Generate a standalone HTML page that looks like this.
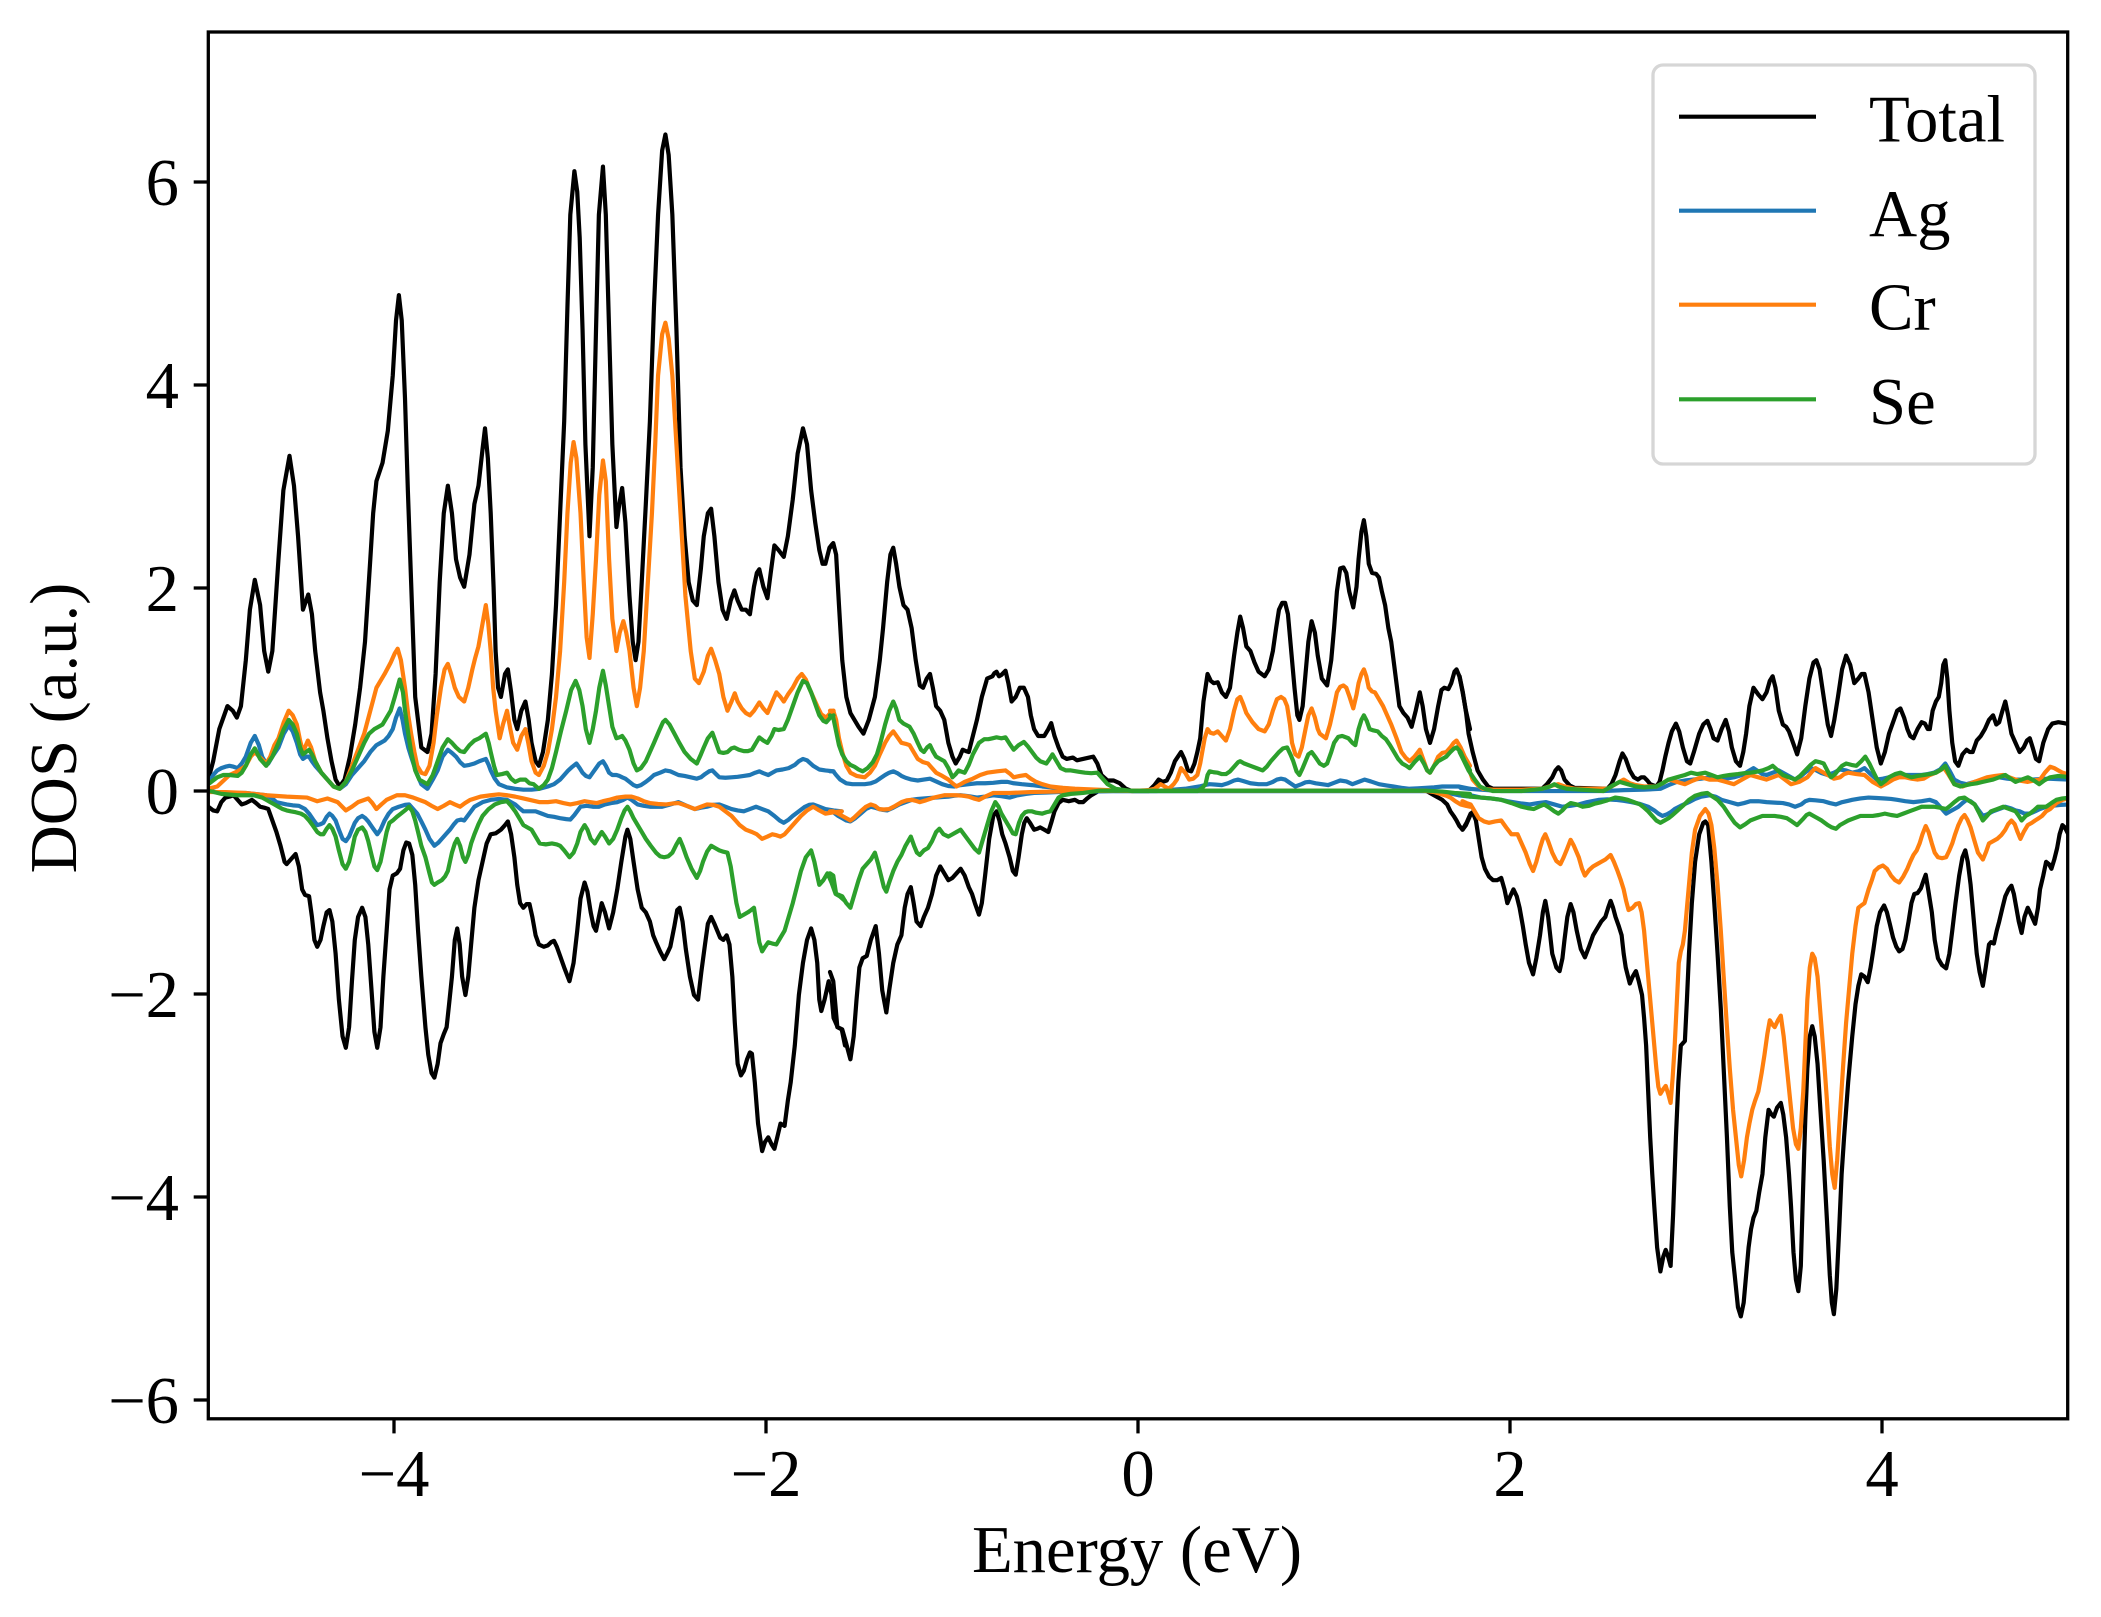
<!DOCTYPE html>
<html><head><meta charset="utf-8"><style>
html,body{margin:0;padding:0;background:#fff;}
svg{display:block;}
text{font-family:"Liberation Serif","Times New Roman",serif;font-size:66.67px;fill:#000;}
polyline{fill:none;stroke-width:4.2;stroke-linejoin:round;stroke-linecap:round;}
.k{stroke:#000;} .b{stroke:#1f77b4;} .o{stroke:#ff7f0e;} .g{stroke:#2ca02c;}
</style></head><body>
<svg width="2101" height="1617" viewBox="0 0 2101 1617" xmlns="http://www.w3.org/2000/svg">
<defs><clipPath id="ax"><rect x="208" y="32" width="1860" height="1387"/></clipPath></defs>
<rect width="2101" height="1617" fill="#fff"/>
<g clip-path="url(#ax)">
<!-- TOTAL (black) -->
<g transform="translate(205,100) scale(0.408163,0.459184)">
<polyline vector-effect="non-scaling-stroke" class="k" points="8,1480 20,1440 35,1370 55,1320 68,1330 78,1345 88,1320 100,1220 110,1110 122,1045 135,1100 145,1200 155,1245 165,1200 180,1000 192,850 207,775 218,840 228,950 240,1110 253,1077 262,1120 270,1200 282,1290 290,1330 300,1390 310,1440 320,1480 330,1495 342,1480 355,1430 368,1360 380,1280 392,1180 405,1000 412,900 420,830 435,790 448,720 460,600 468,480 475,425 482,480 490,650 497,850 505,1050 515,1300 530,1410 545,1420 555,1380 565,1250 575,1050 585,900 595,840 605,900 615,1000 625,1040 635,1060 648,990 660,880 670,840 680,760 686,715 693,780 700,900 707,1060 712,1200 718,1280 725,1300 735,1250 742,1240 750,1290 758,1350 765,1370 775,1330 785,1310 793,1350 800,1400 810,1440 818,1450 828,1420 840,1350 850,1250 860,1100 870,900 880,700 888,450 895,250 905,155 912,200 918,300 925,500 932,750 942,950 950,800 958,500 965,250 975,145 982,250 990,500 998,750 1008,930 1015,880 1022,845 1030,920 1040,1080 1048,1180 1055,1220 1062,1180 1070,1050 1080,880 1090,700 1100,450 1110,250 1120,110 1128,75 1136,120 1145,250 1155,500 1165,800 1175,950 1185,1050 1195,1090 1205,1100 1215,1020 1222,950 1232,900 1240,890 1248,950 1258,1050 1268,1110 1278,1130 1288,1090 1297,1068 1305,1090 1315,1110 1325,1110 1335,1120 1345,1060 1352,1030 1358,1022 1368,1060 1378,1085 1386,1030 1395,970 1405,980 1418,995 1428,950 1440,870 1452,770 1465,715 1475,750 1485,850 1495,920 1505,980 1513,1010 1520,1010 1530,975 1537,967"/>
</g>
<g transform="translate(830,100) scale(0.408163,0.459184)">
<polyline vector-effect="non-scaling-stroke" class="k" points="0,975 8,965 15,990 22,1100 30,1220 40,1300 50,1335 60,1350 70,1365 82,1380 95,1350 110,1300 122,1220 130,1150 140,1050 148,990 155,975 162,1010 170,1060 180,1100 190,1110 200,1150 210,1220 220,1275 228,1280 237,1260 245,1250 252,1280 260,1320 270,1330 280,1350 290,1400 300,1430 308,1445 318,1430 325,1415 333,1418 340,1420 350,1385 360,1350 372,1300 385,1260 398,1255 403,1248 408,1245 414,1255 420,1252 430,1243 437,1270 445,1310 455,1300 465,1280 475,1280 485,1300 492,1340 500,1370 510,1385 525,1385 535,1370 542,1357 550,1385 560,1410 570,1430 580,1435 595,1432 605,1438 620,1435 635,1432 645,1430 655,1445 665,1470 680,1482 695,1482 710,1488 725,1500 740,1505 780,1505 795,1492 805,1480 815,1485 825,1482 835,1465 845,1440 860,1420 868,1435 877,1460 885,1462 893,1445 900,1420 907,1390 915,1310 925,1250 933,1265 940,1270 950,1268 960,1290 970,1300 980,1280 990,1210 998,1160 1005,1125 1012,1150 1020,1190 1030,1200 1040,1225 1050,1245 1065,1255 1075,1240 1085,1200 1093,1150 1100,1110 1108,1095 1115,1095 1122,1120 1130,1200 1138,1280 1145,1340 1150,1350 1158,1320 1165,1250 1172,1180 1180,1135 1188,1160 1195,1210 1205,1260 1218,1275 1228,1220 1235,1150 1242,1070 1250,1020 1258,1018 1265,1030 1272,1070 1282,1105 1290,1060 1295,1000 1302,940 1308,915 1314,950 1320,1010 1328,1030 1338,1032 1345,1040 1352,1070 1360,1100 1368,1150 1375,1180 1385,1250 1395,1320 1405,1335 1415,1345 1425,1365 1435,1330 1445,1290 1452,1320 1460,1370 1470,1400 1480,1370 1490,1320 1498,1285 1505,1280 1515,1283 1522,1270 1530,1245 1535,1240 1542,1255 1550,1290 1558,1330 1568,1370"/>
</g>
<g transform="translate(1440,100) scale(0.408163,0.459184)">
<polyline vector-effect="non-scaling-stroke" class="k" points="48,1255 56,1290 64,1335 70,1380 80,1420 92,1460 105,1480 118,1495 130,1500 250,1500 262,1490 275,1475 283,1460 290,1453 297,1460 305,1480 318,1493 330,1498 410,1500 420,1490 430,1470 440,1440 447,1423 455,1435 465,1460 475,1475 485,1480 493,1475 500,1475 508,1482 515,1490 530,1495 538,1485 545,1460 552,1430 560,1400 568,1375 578,1358 586,1375 595,1410 605,1440 613,1445 622,1420 635,1380 645,1360 655,1352 663,1370 670,1390 680,1395 690,1370 700,1350 708,1375 715,1410 725,1440 735,1450 743,1420 750,1380 758,1320 768,1280 780,1295 790,1305 800,1290 808,1265 815,1255 822,1280 830,1330 840,1360 848,1365 855,1375 865,1400 875,1425 885,1390 895,1320 905,1260 915,1225 922,1220 930,1240 940,1300 950,1360 958,1385 966,1350 975,1300 985,1240 995,1210 1005,1230 1015,1270 1025,1260 1033,1250 1040,1250 1050,1290 1060,1350 1070,1410 1080,1445 1090,1420 1100,1380 1112,1350 1120,1330 1128,1325 1137,1345 1145,1370 1152,1385 1160,1390 1170,1370 1180,1355 1188,1358 1195,1370 1200,1370 1207,1330 1215,1310 1222,1300 1228,1270 1233,1230 1238,1220 1243,1260 1248,1330 1255,1400 1262,1440 1270,1450 1280,1425 1290,1415 1298,1420 1305,1420 1315,1395 1325,1385 1335,1370 1345,1350 1355,1340 1363,1360 1370,1355 1378,1330 1385,1310 1392,1340 1400,1380 1410,1400 1420,1420 1430,1410 1438,1395 1445,1390 1452,1410 1460,1435 1468,1440 1478,1400 1490,1370 1500,1358 1515,1355 1528,1357 1545,1360"/>
</g>
<g transform="translate(205,770) scale(0.408163,0.459184)">
<polyline vector-effect="non-scaling-stroke" class="k" points="8,80 20,88 30,90 40,70 50,60 60,58 70,55 80,65 90,75 100,72 115,65 125,72 135,80 145,82 155,85 165,110 175,135 185,165 195,200 200,205 210,195 222,183 230,210 238,260 245,272 255,275 262,320 268,370 275,385 283,370 290,340 298,310 305,305 312,330 320,400 328,500 337,580 345,605 353,560 360,460 367,370 375,320 385,300 393,320 400,380 408,480 415,570 422,605 430,560 437,450 445,350 452,260 460,230 470,225 478,215 486,175 493,158 500,160 508,185 515,250 522,350 530,450 540,560 547,620 555,660 562,670 570,640 577,595 585,575 592,560 598,510 605,450 612,370 618,345 624,380 630,450 638,490 645,450 652,380 660,300 670,240 680,200 690,160 700,140 712,138 725,130 735,120 742,112 750,140 758,190 765,250 772,290 780,300 788,292 795,292 802,320 810,360 818,380 830,385 840,382 848,375 855,372 862,385 870,405 880,430 893,460 903,420 912,350 920,280 930,245 937,265 945,310 952,340 958,350 965,320 972,290 980,310 990,345 1000,310 1010,260 1020,200 1030,145 1035,130 1042,150 1050,200 1060,260 1070,300 1080,310 1090,330 1098,360 1105,375 1115,395 1125,412 1132,400 1140,385 1150,340 1157,305 1163,300 1170,330 1178,390 1188,450 1198,490 1208,500 1216,440 1225,380 1232,335 1240,320 1248,335 1255,350 1262,365 1270,370 1278,360 1285,380 1292,450 1298,550 1305,640 1313,665 1320,655 1328,630 1335,615 1340,618 1347,680 1355,770 1365,830 1372,810 1380,800 1388,815 1395,825 1402,800 1410,770 1420,775 1428,720 1435,680 1445,600 1455,490 1465,420 1475,370 1485,345 1493,370 1500,420 1505,500 1510,525 1518,500 1528,460 1535,490 1540,540 1550,560 1560,565 1568,600"/>
</g>
<g transform="translate(830,770) scale(0.408163,0.459184)">
<polyline vector-effect="non-scaling-stroke" class="k" points="0,440 8,460 12,500 18,560 30,565 38,590 50,630 58,580 65,500 72,430 80,410 90,405 100,370 112,340 120,400 128,480 138,528 145,480 155,420 165,380 175,360 183,300 190,270 198,255 205,290 212,330 222,340 230,320 240,300 250,270 260,230 270,210 280,225 290,240 300,235 310,225 320,215 330,230 340,255 348,270 355,290 365,315 372,290 380,230 390,150 400,100 408,90 415,110 422,140 430,160 440,190 448,220 455,228 462,190 470,140 476,115 482,105 490,115 500,130 508,128 515,125 525,130 535,135 542,115 550,90 560,72 570,65 585,68 600,65 610,70 620,70 630,62 640,55 650,50 660,45 1460,45 1480,55 1500,65 1512,75 1520,90 1528,100 1535,110 1542,122 1550,130 1558,120 1568,100"/>
</g>
<g transform="translate(1440,770) scale(0.408163,0.459184)">
<polyline vector-effect="non-scaling-stroke" class="k" points="55,130 65,115 75,95 80,92 88,110 95,150 102,190 110,215 120,232 130,240 140,240 150,235 158,260 165,290 172,275 180,260 188,275 195,300 203,340 210,380 218,420 228,445 236,410 245,360 252,310 258,285 265,320 275,400 285,430 293,438 300,410 305,370 312,320 320,292 327,310 335,350 345,390 355,408 365,385 375,360 385,345 395,330 405,320 412,300 418,285 424,300 430,320 438,340 445,360 450,400 455,430 465,465 472,450 480,438 487,460 495,490 500,540 505,600 510,700 515,800 520,880 525,950 532,1040 540,1092 547,1060 553,1045 559,1060 565,1080 571,970 578,800 584,680 590,600 595,595 600,590 605,500 610,400 617,290 625,200 635,140 645,115 650,112 657,120 665,200 672,290 680,400 688,520 695,650 703,800 710,950 716,1050 722,1100 730,1170 737,1190 744,1160 750,1100 756,1040 762,1000 768,975 775,960 782,920 790,880 797,800 805,740 812,750 818,755 826,735 835,725 841,750 848,800 855,880 860,950 866,1050 872,1110 878,1135 884,1080 890,900 895,760 900,650 906,580 912,558 918,580 925,640 932,740 940,850 948,980 955,1100 960,1160 965,1185 971,1130 978,1000 984,880 990,800 1000,680 1010,580 1018,510 1025,470 1032,445 1040,450 1048,462 1055,430 1062,390 1070,340 1078,310 1088,295 1095,310 1102,335 1110,365 1118,385 1125,395 1133,390 1140,370 1148,330 1155,290 1162,270 1170,268 1178,258 1185,240 1190,228 1196,260 1205,310 1212,370 1220,410 1230,425 1240,432 1248,400 1255,350 1263,290 1272,230 1280,190 1287,175 1293,200 1300,250 1307,320 1315,400 1322,440 1330,470 1337,430 1345,380 1350,375 1357,378 1364,350 1370,330 1378,300 1385,275 1393,260 1400,252 1406,270 1412,300 1418,330 1425,355 1432,320 1440,300 1448,315 1458,335 1465,300 1470,260 1478,230 1485,200 1492,205 1498,215 1505,195 1512,170 1518,140 1525,120 1531,125 1545,150"/>
</g>
<!-- Ag (blue) -->
<g transform="translate(205,100) scale(0.408163,0.459184)">
<polyline vector-effect="non-scaling-stroke" class="b" points="8,1490 20,1470 30,1460 40,1455 50,1452 60,1450 70,1452 80,1455 90,1445 100,1430 112,1400 122,1385 132,1405 140,1430 148,1442 155,1445 165,1430 180,1410 193,1380 205,1362 215,1375 225,1400 233,1425 240,1435 248,1430 255,1430 262,1440 270,1450 285,1465 300,1480 315,1495 330,1500 345,1490 360,1470 375,1455 390,1440 405,1420 420,1405 430,1400 440,1395 450,1385 460,1370 468,1345 477,1325 484,1350 490,1380 498,1410 505,1430 518,1465 530,1490 545,1500 558,1480 570,1460 582,1430 595,1415 605,1422 615,1430 625,1442 635,1450 648,1448 660,1445 672,1440 688,1435 695,1448 700,1460 710,1478 720,1490 740,1497 760,1500 780,1502 800,1502 820,1500 840,1495 855,1490 870,1480 880,1470 890,1460 900,1452 910,1445 918,1455 925,1465 933,1472 942,1475 950,1465 958,1455 966,1445 975,1440 982,1450 990,1465 998,1470 1008,1470 1015,1472 1022,1475 1030,1478 1040,1485 1050,1492 1058,1495 1068,1492 1080,1485 1090,1478 1100,1470 1115,1465 1128,1460 1140,1462 1160,1470 1175,1472 1190,1475 1205,1478 1215,1475 1225,1468 1235,1462 1243,1460 1252,1468 1260,1475 1275,1476 1290,1475 1305,1474 1320,1472 1335,1470 1348,1465 1358,1462 1368,1466 1380,1470 1390,1465 1400,1460 1415,1458 1430,1455 1445,1448 1455,1440 1465,1435 1475,1438 1490,1450 1505,1458 1520,1460 1540,1462"/>
</g>
<g transform="translate(830,100) scale(0.408163,0.459184)">
<polyline vector-effect="non-scaling-stroke" class="b" points="0,1462 8,1462 15,1470 25,1480 40,1488 55,1490 70,1490 85,1490 100,1488 112,1484 125,1476 135,1470 145,1465 155,1462 165,1466 175,1472 185,1476 200,1480 215,1482 230,1480 245,1478 260,1484 275,1490 290,1494 305,1495 320,1492 340,1490 360,1488 380,1488 400,1487 420,1485 435,1485 450,1488 470,1490 495,1492 520,1495 545,1497 565,1498 590,1500 620,1502 660,1503 700,1505 800,1505 840,1502 870,1500 890,1497 905,1495 918,1492 930,1490 945,1491 960,1492 975,1488 990,1482 1000,1480 1012,1483 1030,1488 1050,1490 1070,1490 1085,1485 1095,1480 1105,1478 1115,1480 1128,1488 1140,1495 1155,1490 1165,1486 1175,1485 1190,1488 1205,1490 1220,1492 1235,1487 1250,1482 1265,1484 1280,1490 1295,1485 1310,1480 1325,1484 1345,1490 1365,1493 1380,1495 1400,1498 1420,1500 1440,1499 1460,1498 1480,1497 1500,1495 1520,1495 1540,1495 1568,1500"/>
</g>
<g transform="translate(1440,100) scale(0.408163,0.459184)">
<polyline vector-effect="non-scaling-stroke" class="b" points="50,1498 70,1500 100,1502 150,1505 400,1505 450,1503 500,1502 540,1500 560,1492 580,1485 600,1482 620,1480 640,1478 660,1475 680,1477 700,1478 720,1475 740,1470 755,1462 768,1455 780,1462 790,1468 800,1470 815,1465 830,1460 850,1470 870,1480 885,1472 898,1462 910,1455 922,1460 935,1466 950,1470 965,1465 980,1458 995,1460 1010,1465 1025,1462 1040,1455 1055,1468 1070,1480 1085,1478 1100,1475 1120,1472 1140,1470 1160,1470 1180,1470 1195,1468 1210,1465 1225,1458 1238,1445 1248,1460 1260,1480 1275,1487 1290,1490 1310,1485 1330,1480 1350,1477 1370,1475 1390,1478 1410,1480 1430,1480 1450,1480 1470,1479 1490,1478 1515,1479 1545,1480"/>
</g>
<g transform="translate(205,770) scale(0.408163,0.459184)">
<polyline vector-effect="non-scaling-stroke" class="b" points="8,45 40,50 100,50 150,55 165,62 175,70 190,73 200,75 215,77 230,78 245,85 255,95 265,108 275,120 283,118 290,115 298,102 305,95 312,100 320,110 328,130 337,150 345,155 353,145 360,130 367,115 375,105 385,100 393,105 400,112 410,125 422,140 430,130 440,110 450,95 460,85 475,80 490,76 500,75 510,85 520,95 530,112 540,130 550,150 562,165 572,158 580,150 590,140 600,130 610,118 618,110 628,108 635,110 645,98 660,80 680,70 700,65 720,63 740,65 750,70 760,75 770,83 780,90 795,90 810,90 825,95 840,100 855,102 870,105 885,107 895,108 905,98 920,80 935,78 950,80 965,80 980,75 995,72 1010,70 1025,65 1035,60 1045,65 1060,75 1075,78 1090,80 1105,80 1120,80 1140,75 1160,70 1180,78 1200,85 1215,82 1230,80 1245,76 1260,75 1275,80 1290,85 1305,88 1320,90 1335,85 1350,80 1365,85 1380,90 1395,100 1408,110 1418,115 1430,108 1440,100 1455,90 1470,80 1480,76 1490,75 1505,80 1520,85 1540,88 1560,90"/>
</g>
<g transform="translate(830,770) scale(0.408163,0.459184)">
<polyline vector-effect="non-scaling-stroke" class="b" points="0,90 8,92 20,100 30,105 40,110 50,112 62,105 75,95 88,85 100,80 110,82 120,85 130,87 140,88 155,82 170,75 185,70 200,65 215,63 230,62 245,61 260,60 275,59 290,58 305,56 320,55 340,57 360,60 380,58 400,55 420,57 440,60 460,55 480,52 500,50 530,49 560,48 600,47 640,47 700,46 1460,46 1480,47 1500,48 1520,51 1540,55 1568,58"/>
</g>
<g transform="translate(1440,770) scale(0.408163,0.459184)">
<polyline vector-effect="non-scaling-stroke" class="b" points="60,53 75,55 100,60 125,62 150,65 165,68 180,70 200,73 220,75 240,72 260,70 280,75 300,80 320,78 340,75 360,70 390,65 410,64 430,65 450,67 470,70 490,74 510,80 525,88 535,95 545,100 555,97 565,92 575,85 590,78 610,70 625,63 640,58 660,55 675,58 690,65 710,70 730,75 745,72 760,68 780,68 800,70 820,71 840,72 855,75 870,80 885,75 895,68 905,65 920,66 940,68 955,72 970,75 985,70 1000,67 1010,65 1030,62 1050,60 1070,61 1090,62 1105,63 1120,65 1140,68 1160,70 1180,68 1200,65 1215,70 1225,80 1235,90 1240,95 1250,90 1260,85 1270,80 1280,72 1290,65 1300,68 1310,75 1320,88 1330,100 1340,97 1355,90 1370,85 1385,80 1400,84 1410,88 1420,90 1432,95 1445,95 1458,90 1470,85 1485,80 1500,78 1520,76 1545,75"/>
</g>
<!-- Cr (orange) -->
<g transform="translate(205,100) scale(0.408163,0.459184)">
<polyline vector-effect="non-scaling-stroke" class="o" points="8,1500 30,1495 60,1470 80,1462 100,1450 112,1430 122,1420 135,1432 150,1445 160,1430 170,1405 180,1390 193,1355 205,1330 215,1340 225,1360 233,1395 240,1420 252,1395 260,1410 270,1440 285,1465 300,1480 315,1495 330,1500 345,1485 360,1450 375,1415 390,1380 405,1330 420,1280 432,1262 440,1250 455,1225 465,1205 472,1195 480,1220 490,1280 498,1340 505,1380 513,1420 520,1450 530,1465 540,1468 550,1450 560,1400 568,1340 578,1280 587,1240 595,1228 603,1250 612,1280 622,1300 635,1310 645,1280 655,1240 662,1215 670,1190 680,1140 688,1100 694,1140 700,1200 706,1280 712,1330 722,1390 730,1360 740,1330 748,1370 755,1400 765,1415 775,1385 785,1370 792,1400 800,1440 810,1465 818,1470 830,1450 840,1420 850,1370 860,1300 870,1200 880,1050 888,900 896,790 903,745 910,780 920,900 928,1050 935,1170 942,1215 950,1120 958,1000 966,860 975,785 982,830 990,1000 998,1130 1008,1200 1016,1160 1025,1135 1032,1160 1040,1200 1050,1280 1058,1320 1066,1280 1075,1200 1085,1050 1095,900 1103,750 1110,600 1120,510 1128,485 1136,520 1145,600 1155,750 1165,900 1177,1080 1190,1200 1200,1260 1210,1270 1222,1245 1232,1210 1240,1195 1250,1220 1260,1250 1270,1300 1280,1330 1290,1310 1298,1292 1305,1310 1315,1325 1325,1335 1335,1340 1345,1330 1358,1312 1368,1325 1378,1335 1390,1310 1400,1290 1410,1300 1418,1310 1428,1295 1440,1280 1452,1260 1462,1250 1472,1262 1480,1280 1490,1300 1500,1320 1510,1338 1522,1345 1532,1335 1540,1330"/>
</g>
<g transform="translate(830,100) scale(0.408163,0.459184)">
<polyline vector-effect="non-scaling-stroke" class="o" points="0,1330 8,1330 15,1350 22,1390 30,1420 40,1450 50,1465 65,1472 85,1475 98,1465 110,1450 122,1425 135,1400 145,1385 155,1375 163,1385 175,1400 185,1402 195,1405 205,1420 215,1435 228,1442 240,1445 250,1455 260,1465 275,1472 290,1480 300,1488 310,1495 320,1490 330,1485 350,1478 368,1470 385,1465 410,1462 430,1460 442,1468 450,1475 465,1472 480,1470 492,1478 505,1485 520,1490 540,1495 570,1498 600,1500 680,1503 740,1505 780,1503 795,1500 810,1490 820,1495 830,1500 842,1490 850,1480 860,1455 870,1465 880,1480 890,1478 900,1470 907,1445 912,1420 918,1390 925,1370 932,1378 940,1380 950,1375 960,1385 970,1395 980,1370 990,1330 998,1305 1005,1300 1012,1315 1020,1335 1035,1355 1050,1370 1065,1375 1075,1360 1085,1330 1095,1305 1105,1300 1113,1305 1120,1320 1127,1360 1132,1400 1140,1425 1148,1430 1156,1410 1165,1370 1172,1340 1180,1325 1188,1345 1195,1370 1200,1380 1215,1390 1225,1360 1235,1320 1242,1290 1250,1278 1258,1275 1265,1280 1273,1300 1282,1325 1290,1295 1295,1270 1302,1250 1308,1240 1314,1255 1320,1280 1328,1288 1335,1290 1345,1305 1355,1320 1365,1340 1375,1360 1388,1390 1400,1420 1410,1432 1420,1440 1432,1430 1445,1415 1455,1440 1463,1460 1470,1465 1480,1450 1490,1430 1500,1422 1510,1420 1520,1410 1528,1400 1535,1395 1545,1410 1555,1430 1568,1450"/>
</g>
<g transform="translate(1440,100) scale(0.408163,0.459184)">
<polyline vector-effect="non-scaling-stroke" class="o" points="48,1410 58,1428 70,1455 80,1480 92,1492 105,1500 130,1502 200,1502 250,1500 275,1493 290,1490 305,1495 330,1500 410,1500 430,1490 450,1480 465,1488 480,1492 500,1495 530,1495 545,1488 560,1480 570,1482 580,1485 600,1490 620,1482 640,1475 660,1480 680,1480 700,1485 720,1490 740,1480 760,1470 780,1475 800,1480 815,1475 830,1470 845,1480 860,1490 880,1485 900,1475 912,1462 920,1455 930,1460 950,1470 965,1478 980,1475 990,1468 1000,1465 1020,1468 1040,1470 1060,1485 1080,1495 1095,1488 1110,1480 1125,1475 1140,1475 1155,1478 1170,1480 1185,1478 1200,1470 1215,1465 1225,1460 1235,1455 1245,1468 1260,1490 1280,1495 1295,1490 1310,1485 1325,1480 1340,1475 1360,1472 1380,1470 1395,1475 1410,1480 1425,1483 1440,1485 1455,1482 1470,1480 1482,1465 1495,1452 1505,1455 1515,1460 1525,1465 1545,1470"/>
</g>
<g transform="translate(205,770) scale(0.408163,0.459184)">
<polyline vector-effect="non-scaling-stroke" class="o" points="8,48 50,48 100,50 150,55 200,58 250,60 275,68 300,62 325,70 345,88 360,80 375,70 400,62 410,72 420,85 432,75 445,65 470,55 490,55 510,60 525,65 540,70 555,78 570,85 585,78 600,70 612,75 625,80 637,72 650,65 675,58 700,55 720,53 740,55 760,58 780,62 800,66 820,70 840,70 860,68 878,72 895,75 912,72 930,68 945,70 960,72 975,68 990,65 1010,60 1030,58 1045,58 1060,62 1075,68 1090,72 1110,74 1130,75 1145,73 1160,72 1180,78 1200,85 1215,80 1230,75 1245,76 1260,80 1275,90 1290,100 1300,110 1310,120 1325,130 1340,135 1352,140 1365,150 1378,145 1390,140 1400,142 1410,145 1420,140 1430,130 1445,115 1460,100 1475,88 1490,80 1505,88 1520,95 1540,92 1560,90"/>
</g>
<g transform="translate(830,770) scale(0.408163,0.459184)">
<polyline vector-effect="non-scaling-stroke" class="o" points="0,90 8,90 20,95 30,100 40,105 50,110 60,103 75,90 88,80 100,75 110,78 120,85 132,86 145,85 160,78 175,70 188,66 200,65 210,67 220,70 235,66 255,60 270,57 280,55 295,55 310,55 325,56 340,58 352,62 365,65 380,58 400,50 420,50 440,50 490,48 550,47 600,46 700,45 1450,45 1465,46 1480,48 1495,52 1510,56 1520,60 1532,68 1545,75 1558,78 1568,80"/>
</g>
<g transform="translate(1440,770) scale(0.408163,0.459184)">
<polyline vector-effect="non-scaling-stroke" class="o" points="55,68 65,72 75,75 85,90 95,105 108,112 120,115 135,112 150,110 162,125 175,140 190,140 200,160 210,180 220,205 228,220 236,200 245,170 252,150 258,140 265,155 275,180 285,198 295,205 303,190 310,175 320,152 328,165 340,190 348,215 355,230 365,218 375,210 385,205 395,200 405,195 418,185 426,200 435,220 443,240 450,260 456,285 462,305 472,300 480,292 488,290 494,310 500,350 505,400 510,450 515,500 520,550 525,600 530,650 535,690 540,705 547,695 553,688 559,705 565,725 570,670 575,600 580,510 585,420 590,395 595,380 600,350 605,300 610,250 617,180 625,130 637,100 650,85 658,95 665,120 672,170 680,250 688,350 695,450 703,560 710,650 718,740 725,800 732,860 738,885 745,850 752,800 758,770 765,740 772,720 780,700 788,660 795,620 802,575 808,545 815,555 820,560 828,545 835,535 842,580 850,650 858,720 865,780 872,815 878,825 884,780 890,700 895,600 900,500 906,430 912,400 918,410 925,450 932,530 940,620 948,720 955,820 961,880 967,910 973,850 980,750 988,640 995,550 1003,470 1010,400 1018,340 1025,300 1032,295 1040,290 1045,275 1050,260 1058,240 1065,220 1075,212 1085,208 1095,215 1105,230 1115,240 1125,245 1135,232 1145,215 1152,200 1160,185 1168,175 1175,160 1182,140 1190,122 1197,135 1205,160 1212,180 1220,190 1230,192 1240,190 1248,175 1255,160 1262,140 1270,120 1278,105 1285,98 1292,108 1300,125 1308,150 1318,180 1330,195 1338,178 1345,160 1355,155 1365,150 1375,142 1385,130 1392,118 1400,110 1408,118 1415,135 1422,150 1430,135 1440,120 1450,115 1458,110 1467,105 1475,100 1485,90 1495,85 1510,72 1525,65 1545,60"/>
</g>
<!-- Se (green) -->
<g transform="translate(205,100) scale(0.408163,0.459184)">
<polyline vector-effect="non-scaling-stroke" class="g" points="8,1490 30,1475 45,1470 60,1470 80,1472 90,1465 100,1450 112,1425 122,1412 135,1435 150,1450 165,1430 180,1400 193,1370 205,1350 215,1360 225,1380 233,1410 240,1425 255,1415 262,1425 270,1440 285,1465 300,1480 315,1495 330,1500 345,1485 360,1460 375,1430 390,1400 402,1380 415,1370 425,1365 435,1360 445,1345 455,1330 465,1300 477,1262 485,1290 490,1330 498,1380 505,1420 515,1460 525,1480 545,1490 558,1470 570,1440 582,1410 595,1392 605,1400 615,1410 625,1418 635,1420 648,1405 660,1395 672,1390 688,1380 695,1400 700,1420 708,1450 715,1470 728,1468 740,1465 750,1478 760,1485 772,1480 785,1480 795,1488 805,1490 818,1500 830,1492 840,1480 850,1455 860,1420 872,1375 885,1330 897,1285 908,1265 917,1285 925,1320 933,1370 942,1400 950,1370 958,1330 966,1280 975,1243 982,1275 990,1320 998,1365 1008,1390 1015,1388 1022,1385 1030,1395 1040,1415 1050,1445 1058,1460 1068,1455 1080,1440 1090,1420 1100,1400 1112,1375 1122,1355 1128,1350 1138,1360 1150,1380 1162,1400 1175,1420 1190,1435 1205,1445 1215,1425 1222,1410 1232,1390 1243,1378 1250,1395 1260,1420 1270,1422 1280,1420 1290,1412 1297,1410 1308,1415 1320,1418 1330,1418 1340,1415 1350,1400 1358,1388 1368,1395 1378,1400 1388,1385 1395,1370 1405,1372 1418,1370 1428,1350 1440,1320 1452,1290 1465,1265 1475,1270 1485,1290 1495,1315 1505,1340 1515,1352 1522,1355 1532,1345 1540,1340"/>
</g>
<g transform="translate(830,100) scale(0.408163,0.459184)">
<polyline vector-effect="non-scaling-stroke" class="g" points="0,1340 8,1345 15,1375 22,1405 30,1425 40,1440 50,1448 60,1452 70,1458 80,1462 92,1455 105,1442 115,1425 125,1395 135,1360 145,1330 155,1310 162,1325 170,1350 180,1358 195,1365 205,1380 215,1400 223,1415 230,1420 238,1410 245,1405 252,1418 260,1430 270,1435 280,1440 290,1455 300,1475 308,1468 315,1460 323,1463 330,1465 340,1448 350,1425 365,1400 378,1392 388,1392 398,1390 408,1388 420,1390 430,1388 440,1402 450,1415 462,1405 475,1398 485,1408 495,1420 505,1432 515,1440 530,1445 538,1435 545,1425 555,1440 565,1455 578,1460 590,1460 610,1463 625,1465 640,1466 655,1465 665,1475 680,1490 700,1500 740,1505 900,1505 912,1498 920,1490 925,1470 930,1462 940,1464 950,1465 960,1468 970,1468 980,1462 990,1452 1000,1442 1005,1440 1015,1445 1030,1450 1045,1455 1060,1460 1070,1452 1080,1440 1092,1428 1100,1420 1110,1412 1120,1410 1128,1425 1135,1440 1143,1462 1150,1470 1158,1455 1165,1440 1172,1425 1180,1420 1190,1432 1200,1445 1210,1450 1218,1445 1228,1420 1235,1400 1245,1387 1255,1385 1270,1390 1280,1400 1287,1405 1295,1370 1302,1350 1308,1340 1315,1352 1322,1370 1332,1373 1342,1375 1352,1385 1362,1392 1372,1405 1382,1420 1392,1435 1402,1445 1412,1450 1420,1455 1432,1442 1445,1430 1455,1445 1463,1460 1470,1465 1480,1450 1490,1440 1500,1435 1510,1430 1520,1420 1528,1413 1535,1410 1545,1420 1555,1440 1568,1460"/>
</g>
<g transform="translate(1440,100) scale(0.408163,0.459184)">
<polyline vector-effect="non-scaling-stroke" class="g" points="48,1420 58,1438 70,1460 85,1480 98,1495 110,1500 130,1505 200,1505 250,1500 270,1495 280,1490 290,1495 310,1500 400,1505 410,1500 425,1492 440,1485 460,1490 480,1495 500,1497 530,1495 545,1488 560,1480 580,1475 600,1470 615,1465 630,1468 650,1465 665,1470 680,1475 695,1472 710,1470 730,1468 745,1466 760,1465 775,1463 790,1460 805,1455 815,1450 825,1458 840,1470 855,1475 870,1480 882,1472 895,1460 908,1448 920,1440 930,1442 940,1445 950,1462 958,1475 968,1468 975,1460 985,1450 995,1445 1008,1448 1020,1450 1032,1440 1042,1430 1052,1445 1060,1460 1070,1478 1080,1490 1092,1482 1100,1475 1115,1468 1128,1465 1140,1470 1155,1475 1170,1472 1185,1470 1200,1468 1215,1465 1228,1458 1238,1450 1248,1470 1260,1490 1275,1495 1290,1492 1300,1490 1315,1488 1330,1485 1345,1482 1355,1480 1370,1475 1385,1470 1398,1478 1410,1485 1425,1480 1440,1475 1455,1482 1468,1490 1480,1482 1495,1475 1515,1472 1545,1475"/>
</g>
<g transform="translate(205,770) scale(0.408163,0.459184)">
<polyline vector-effect="non-scaling-stroke" class="g" points="8,45 40,52 80,55 120,55 140,60 150,65 160,70 170,75 180,80 190,85 200,88 210,90 222,92 235,95 245,100 255,110 265,122 275,135 283,140 290,140 298,128 305,120 312,128 320,145 328,175 337,205 345,215 353,200 360,175 367,145 375,130 385,125 393,135 400,155 408,185 415,210 422,218 430,200 437,170 445,135 452,115 460,110 470,102 480,95 490,88 500,80 508,90 515,110 522,135 530,165 540,190 550,225 556,245 562,250 570,245 580,240 588,232 595,220 600,200 605,180 612,160 618,150 625,165 632,190 638,200 645,185 652,160 660,140 670,118 680,100 695,85 710,75 725,70 740,68 750,78 760,90 770,105 780,120 790,125 800,130 810,145 820,160 835,162 850,160 862,162 870,165 880,175 893,190 903,180 912,160 920,135 930,120 937,130 945,150 955,160 963,148 972,135 980,145 990,160 1000,150 1010,130 1020,105 1028,88 1035,80 1042,90 1050,105 1060,120 1070,135 1080,150 1092,165 1105,180 1115,188 1125,190 1135,188 1145,180 1155,162 1163,150 1170,165 1180,190 1192,215 1205,235 1213,220 1220,200 1230,178 1240,165 1250,170 1260,175 1270,178 1280,180 1288,210 1295,250 1302,290 1310,320 1320,315 1330,310 1338,305 1345,300 1352,340 1358,375 1365,395 1372,385 1380,375 1390,378 1400,380 1410,365 1420,350 1430,320 1440,290 1450,255 1460,220 1472,190 1485,175 1493,200 1500,230 1505,250 1515,240 1525,225 1535,245 1545,270 1555,275 1568,285"/>
</g>
<g transform="translate(830,770) scale(0.408163,0.459184)">
<polyline vector-effect="non-scaling-stroke" class="g" points="0,225 8,230 15,270 22,272 30,275 40,290 50,300 60,270 70,240 80,215 90,205 100,195 110,180 118,205 125,230 132,255 138,265 145,245 155,220 165,200 175,185 185,165 198,145 206,165 213,180 220,185 230,175 240,170 250,155 260,135 268,128 278,140 290,145 300,140 310,135 320,130 330,142 345,160 355,172 365,180 375,150 385,120 395,90 405,70 413,80 420,95 430,110 440,125 448,138 455,140 463,115 470,100 478,92 485,90 495,90 505,93 520,95 530,92 540,90 550,75 560,60 570,55 590,52 620,50 660,45 1460,45 1500,47 1530,50 1568,52"/>
</g>
<g transform="translate(1440,770) scale(0.408163,0.459184)">
<polyline vector-effect="non-scaling-stroke" class="g" points="55,55 75,58 100,60 125,62 150,65 175,72 200,80 215,83 230,85 242,80 255,75 268,82 280,90 290,95 300,88 310,78 320,72 335,75 350,80 365,78 380,73 395,70 410,66 430,60 445,62 460,65 475,70 490,75 500,82 510,90 520,100 530,110 540,115 550,110 560,105 570,98 580,90 595,78 610,65 625,56 640,52 655,50 668,58 680,65 695,80 710,100 722,115 735,125 748,118 760,110 775,105 790,100 805,100 820,100 835,102 850,105 862,112 875,120 888,108 898,98 905,95 915,100 925,105 935,110 950,120 960,125 970,128 980,120 990,115 1000,110 1015,105 1030,100 1045,100 1060,100 1075,98 1090,95 1105,98 1120,100 1135,95 1150,90 1165,85 1180,80 1195,80 1210,80 1225,82 1240,85 1250,78 1260,70 1272,62 1285,60 1298,68 1310,75 1320,92 1330,110 1340,100 1350,90 1365,85 1380,80 1395,85 1410,90 1418,100 1425,110 1435,100 1445,95 1455,88 1465,80 1475,80 1485,80 1498,72 1510,65 1525,62 1545,60"/>
</g>
</g>
<!-- axes frame -->
<rect x="208.3" y="32" width="1859.4" height="1386.8" fill="none" stroke="#000" stroke-width="3.3"/>
<!-- ticks -->
<g stroke="#000" stroke-width="3.3">
<line x1="394" y1="1418.8" x2="394" y2="1433.4"/>
<line x1="766" y1="1418.8" x2="766" y2="1433.4"/>
<line x1="1138" y1="1418.8" x2="1138" y2="1433.4"/>
<line x1="1510" y1="1418.8" x2="1510" y2="1433.4"/>
<line x1="1882" y1="1418.8" x2="1882" y2="1433.4"/>
<line x1="193.7" y1="1400" x2="208.3" y2="1400"/>
<line x1="193.7" y1="1197" x2="208.3" y2="1197"/>
<line x1="193.7" y1="994" x2="208.3" y2="994"/>
<line x1="193.7" y1="791" x2="208.3" y2="791"/>
<line x1="193.7" y1="588" x2="208.3" y2="588"/>
<line x1="193.7" y1="385" x2="208.3" y2="385"/>
<line x1="193.7" y1="182" x2="208.3" y2="182"/>
</g>
<g text-anchor="middle">
<text x="394" y="1496">−4</text>
<text x="766" y="1496">−2</text>
<text x="1138" y="1496">0</text>
<text x="1510" y="1496">2</text>
<text x="1882" y="1496">4</text>
</g>
<g text-anchor="end">
<text x="179" y="1423">−6</text>
<text x="179" y="1220">−4</text>
<text x="179" y="1017">−2</text>
<text x="179" y="814">0</text>
<text x="179" y="611">2</text>
<text x="179" y="408">4</text>
<text x="179" y="205">6</text>
</g>
<text x="1137" y="1572" text-anchor="middle">Energy (eV)</text>
<text transform="translate(76,728) rotate(-90)" text-anchor="middle">DOS (a.u.)</text>
<!-- legend -->
<rect x="1653" y="65" width="382" height="399" rx="10" ry="10" fill="#fff" fill-opacity="0.8" stroke="#d6d6d6" stroke-width="3.3"/>
<line x1="1679" y1="116.7" x2="1816" y2="116.7" stroke="#000" stroke-width="4.2"/>
<line x1="1679" y1="210.7" x2="1816" y2="210.7" stroke="#1f77b4" stroke-width="4.2"/>
<line x1="1679" y1="304.7" x2="1816" y2="304.7" stroke="#ff7f0e" stroke-width="4.2"/>
<line x1="1679" y1="399.3" x2="1816" y2="399.3" stroke="#2ca02c" stroke-width="4.2"/>
<text x="1869" y="141.7">Total</text>
<text x="1869" y="236">Ag</text>
<text x="1869" y="329.5">Cr</text>
<text x="1869" y="424">Se</text>
</svg>
</body></html>
